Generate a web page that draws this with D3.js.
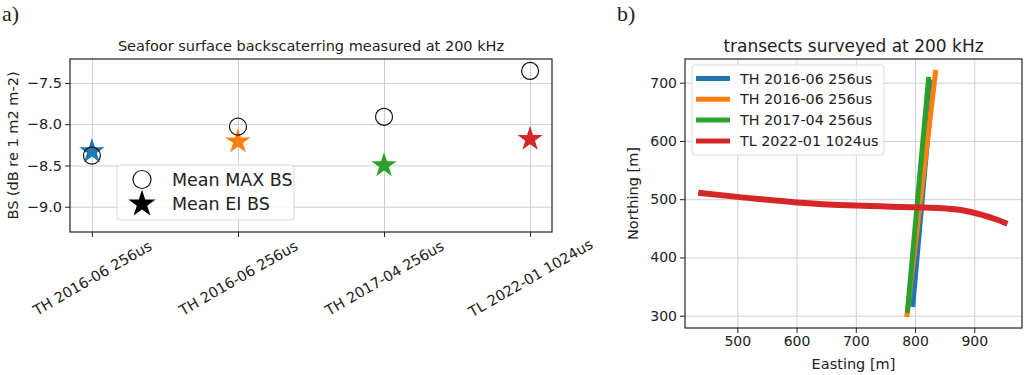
<!DOCTYPE html>
<html>
<head>
<meta charset="utf-8">
<script src="https://cdn.jsdelivr.net/npm/d3@7"></script>
<style>
body { margin: 0; background: #fff; }
text { font-family: "DejaVu Sans", sans-serif; fill: #222; }
.grid line { stroke: #cfcfcf; stroke-width: 1; }
.grid path { display: none; }
</style>
</head>
<body>
<script>
// panel a data
var campaigns = ["TH 2016-06 256us", "TH 2016-06 256us", "TH 2017-04 256us", "TL 2022-01 1024us"];
var meanMaxBS = [-8.38, -8.03, -7.91, -7.355];
var meanEIBS = [-8.33, -8.21, -8.50, -8.18];
var bsTicks = [-9.0, -8.5, -8.0, -7.5];
var colors = ["#1f77b4", "#ff7f0e", "#2ca02c", "#d62728"];

// panel b data (easting, northing)
var transectNames = ["TH 2016-06 256us", "TH 2016-06 256us", "TH 2017-04 256us", "TL 2022-01 1024us"];
var transect0 = [[796, 315], [830, 705]];
var transect1 = [[786, 298], [835, 722]];
var transect2 = [[787, 305], [823, 710]];
var transect3 = [[434, 511], [500, 504], [600, 494.5], [700, 489], [800, 486], [845, 484.5], [880, 481], [910, 474], [935, 466], [956, 458]];
var eastTicks = [500, 600, 700, 800, 900];
var northTicks = [300, 400, 500, 600, 700];

var svg = d3.select("body").append("svg")
    .attr("width", 1024)
    .attr("height", 375)
    .style("background", "#fff");

// panel labels
svg.append("text").attr("x", 2).attr("y", 21)
    .style("font-family", "'Liberation Serif', 'DejaVu Serif', serif")
    .style("font-size", "22px").text("a)");
svg.append("text").attr("x", 617).attr("y", 21)
    .style("font-family", "'Liberation Serif', 'DejaVu Serif', serif")
    .style("font-size", "22px").text("b)");

// ---------- panel a ----------
var a = {left: 70, right: 552, top: 59, bottom: 232};

var xA = d3.scaleLinear().domain([-0.15, 3.15]).range([a.left, a.right]);
var yA = d3.scaleLinear().domain([-9.306, -7.21]).range([a.bottom, a.top]);

var gA = svg.append("g");

gA.append("g").attr("class", "grid")
    .attr("transform", "translate(0," + a.bottom + ")")
    .call(d3.axisBottom(xA).tickValues([0, 1, 2, 3]).tickSize(-(a.bottom - a.top)).tickFormat(""));
gA.append("g").attr("class", "grid")
    .attr("transform", "translate(" + a.left + ",0)")
    .call(d3.axisLeft(yA).tickValues(bsTicks).tickSize(-(a.right - a.left)).tickFormat(""));

// stars then circles
var star = d3.symbol().type(d3.symbolStar).size(200);
gA.selectAll(".ei").data(meanEIBS).enter().append("path")
    .attr("d", star)
    .attr("transform", function(d, i) { return "translate(" + xA(i) + "," + yA(d) + ")"; })
    .attr("fill", function(d, i) { return colors[i]; });

gA.selectAll(".mx").data(meanMaxBS).enter().append("circle")
    .attr("cx", function(d, i) { return xA(i); })
    .attr("cy", function(d) { return yA(d); })
    .attr("r", 8.5)
    .attr("fill", "none")
    .attr("stroke", "#111")
    .attr("stroke-width", 1.2);

var xAxisA = gA.append("g")
    .attr("transform", "translate(0," + a.bottom + ")")
    .call(d3.axisBottom(xA).tickValues([0, 1, 2, 3]).tickSize(5).tickFormat(function(d) { return campaigns[d]; }));
xAxisA.selectAll("text")
    .style("font-size", "14.5px")
    .attr("text-anchor", "middle")
    .attr("y", 0)
    .attr("dy", "0.35em")
    .attr("transform", "translate(0,46) rotate(-30)");

var yAxisA = gA.append("g")
    .attr("transform", "translate(" + a.left + ",0)")
    .call(d3.axisLeft(yA).tickValues(bsTicks).tickSize(5).tickFormat(d3.format(".1f")));
yAxisA.selectAll("text").style("font-size", "14.5px");

[xAxisA, yAxisA].forEach(function(ax) {
    ax.select(".domain").remove();
    ax.selectAll("line").attr("stroke", "#222");
});

gA.append("rect")
    .attr("x", a.left).attr("y", a.top)
    .attr("width", a.right - a.left).attr("height", a.bottom - a.top)
    .attr("fill", "none").attr("stroke", "#222").attr("stroke-width", 1.2);

gA.append("text")
    .attr("x", (a.left + a.right) / 2).attr("y", 51)
    .attr("text-anchor", "middle").style("font-size", "14.5px")
    .text("Seafoor surface backscaterring measured at 200 kHz");

gA.append("text")
    .attr("transform", "translate(18," + ((a.top + a.bottom) / 2) + ") rotate(-90)")
    .attr("text-anchor", "middle").style("font-size", "14.5px")
    .text("BS (dB re 1 m2 m-2)");

// legend a
var legA = gA.append("g");
legA.append("rect")
    .attr("x", 117).attr("y", 165).attr("width", 177).attr("height", 55)
    .attr("rx", 3).attr("fill", "#fff").attr("fill-opacity", 0.85)
    .attr("stroke", "#d8d8d8");
legA.append("circle").attr("cx", 142).attr("cy", 179.5).attr("r", 9)
    .attr("fill", "none").attr("stroke", "#111").attr("stroke-width", 1.2);
legA.append("path").attr("d", d3.symbol().type(d3.symbolStar).size(230))
    .attr("transform", "translate(142,204)").attr("fill", "#000");
legA.append("text").attr("x", 172).attr("y", 186).style("font-size", "17.5px").text("Mean MAX BS");
legA.append("text").attr("x", 172).attr("y", 210).style("font-size", "17.5px").text("Mean EI BS");

// ---------- panel b ----------
var b = {left: 685, right: 1022, top: 59, bottom: 328};

var xB = d3.scaleLinear().domain([411.7, 980.5]).range([b.left, b.right]);
var yB = d3.scaleLinear().domain([278.9, 740.7]).range([b.bottom, b.top]);

var gB = svg.append("g");

gB.append("g").attr("class", "grid")
    .attr("transform", "translate(0," + b.bottom + ")")
    .call(d3.axisBottom(xB).tickValues(eastTicks).tickSize(-(b.bottom - b.top)).tickFormat(""));
gB.append("g").attr("class", "grid")
    .attr("transform", "translate(" + b.left + ",0)")
    .call(d3.axisLeft(yB).tickValues(northTicks).tickSize(-(b.right - b.left)).tickFormat(""));

var line = d3.line()
    .curve(d3.curveMonotoneX)
    .x(function(d) { return xB(d[0]); })
    .y(function(d) { return yB(d[1]); });

var transects = [transect0, transect1, transect2, transect3];
gB.selectAll(".tr").data(transects).enter().append("path")
    .attr("d", line)
    .attr("fill", "none")
    .attr("stroke", function(d, i) { return colors[i]; })
    .attr("stroke-width", function(d, i) { return i == 3 ? 6 : 5; });

var xAxisB = gB.append("g")
    .attr("transform", "translate(0," + b.bottom + ")")
    .call(d3.axisBottom(xB).tickValues(eastTicks).tickSize(5));
var yAxisB = gB.append("g")
    .attr("transform", "translate(" + b.left + ",0)")
    .call(d3.axisLeft(yB).tickValues(northTicks).tickSize(5));
[xAxisB, yAxisB].forEach(function(ax) {
    ax.select(".domain").remove();
    ax.selectAll("line").attr("stroke", "#222");
    ax.selectAll("text").style("font-size", "14px");
});

gB.append("rect")
    .attr("x", b.left).attr("y", b.top)
    .attr("width", b.right - b.left).attr("height", b.bottom - b.top)
    .attr("fill", "none").attr("stroke", "#222").attr("stroke-width", 1.2);

gB.append("text")
    .attr("x", (b.left + b.right) / 2).attr("y", 52)
    .attr("text-anchor", "middle").style("font-size", "17px")
    .text("transects surveyed at 200 kHz");

gB.append("text")
    .attr("x", (b.left + b.right) / 2).attr("y", 369)
    .attr("text-anchor", "middle").style("font-size", "14.5px")
    .text("Easting [m]");

gB.append("text")
    .attr("transform", "translate(638," + ((b.top + b.bottom) / 2) + ") rotate(-90)")
    .attr("text-anchor", "middle").style("font-size", "14.5px")
    .text("Northing [m]");

// legend b
var legB = gB.append("g");
legB.append("rect")
    .attr("x", 692).attr("y", 65).attr("width", 192).attr("height", 90)
    .attr("rx", 3).attr("fill", "#fff").attr("fill-opacity", 0.85)
    .attr("stroke", "#d8d8d8");
transectNames.forEach(function(name, i) {
    var yy = 78.5 + i * 20.8;
    legB.append("line").attr("x1", 696).attr("x2", 730)
        .attr("y1", yy).attr("y2", yy)
        .attr("stroke", colors[i]).attr("stroke-width", 5);
    legB.append("text").attr("x", 740).attr("y", yy + 5)
        .style("font-size", "14.3px").text(name);
});
</script>
</body>
</html>
